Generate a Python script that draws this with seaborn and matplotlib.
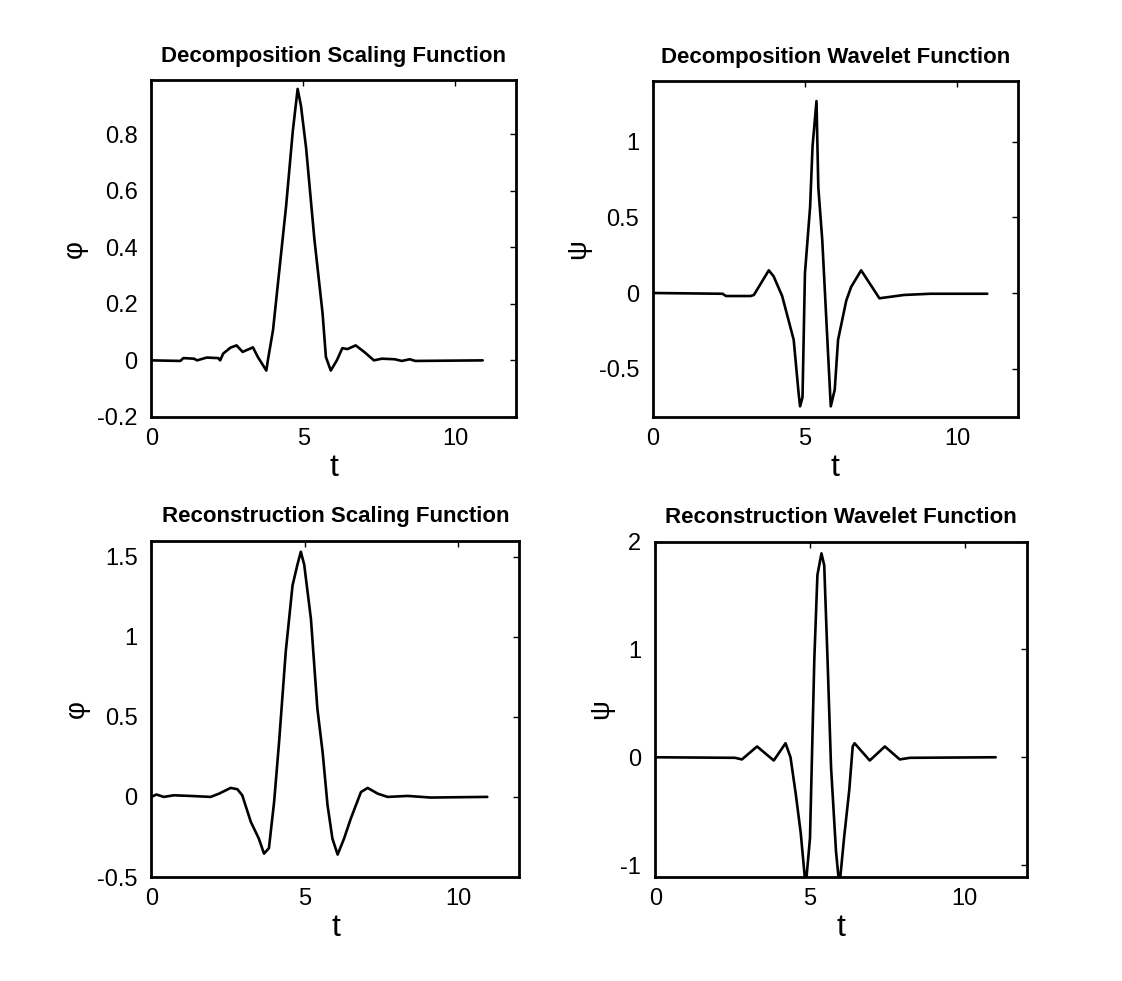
import matplotlib
matplotlib.use('Agg')
import matplotlib.pyplot as plt
import seaborn as sns
import pandas as pd

# values (t, value)
t_phi_dec = [0, 0.95, 1.05, 1.4, 1.5, 1.82, 2.2, 2.26, 2.36, 2.6, 2.8, 3.0, 3.34, 3.5,
             3.78, 3.83, 4.0, 4.43, 4.65, 4.81, 4.92, 5.09, 5.36, 5.63, 5.74, 5.9,
             6.1, 6.28, 6.45, 6.72, 7.0, 7.32, 7.58, 8.0, 8.24, 8.5, 8.68, 10.9]
phi_dec = [0, -0.002, 0.008, 0.006, 0.0, 0.01, 0.008, 0.0, 0.024, 0.045, 0.053, 0.03, 0.046, 0.012,
           -0.036, 0.0, 0.107, 0.545, 0.81, 0.96, 0.9, 0.75, 0.43, 0.167, 0.012, -0.036,
           0.0, 0.043, 0.04, 0.053, 0.03, 0.0, 0.006, 0.004, -0.002, 0.004, -0.002, 0]

t_psi_dec = [0, 2.29, 2.4, 3.21, 3.32, 3.81, 3.97, 4.25, 4.46, 4.63, 4.79, 4.84, 4.92,
             5.0, 5.17, 5.25, 5.38, 5.44, 5.57, 5.71, 5.85, 5.98, 6.09, 6.36, 6.52,
             6.85, 7.45, 8.26, 9.13, 11]
psi_dec = [0, -0.005, -0.02, -0.02, -0.013, 0.15, 0.11, -0.02, -0.18, -0.31, -0.66, -0.75, -0.69,
           0.13, 0.57, 0.97, 1.27, 0.70, 0.35, -0.2, -0.75, -0.64, -0.31, -0.05, 0.04,
           0.15, -0.035, -0.013, -0.005, -0.005]

t_phi_rec = [0, 0.16, 0.4, 0.73, 1.27, 1.93, 2.2, 2.58, 2.8, 2.96, 3.24, 3.5, 3.67, 3.83,
             4.0, 4.16, 4.38, 4.6, 4.76, 4.87, 4.98, 5.2, 5.41, 5.58, 5.74, 5.9, 6.07,
             6.28, 6.5, 6.83, 7.05, 7.38, 7.7, 8.36, 9.1, 10.95]
phi_rec = [0, 0.015, 0.0, 0.01, 0.006, 0.0, 0.02, 0.056, 0.048, 0.01, -0.156, -0.26, -0.354, -0.32,
           -0.03, 0.34, 0.91, 1.32, 1.45, 1.53, 1.45, 1.11, 0.55, 0.28, -0.05, -0.26, -0.36,
           -0.26, -0.135, 0.03, 0.056, 0.02, 0.0, 0.006, -0.004, 0]

t_psi_rec = [0, 2.58, 2.8, 3.29, 3.83, 4.21, 4.37, 4.54, 4.7, 4.86, 5.0, 5.14, 5.24, 5.37,
             5.46, 5.57, 5.68, 5.84, 5.95, 6.1, 6.27, 6.38, 6.44, 6.93, 7.42, 7.9, 8.23, 11]
psi_rec = [0, -0.005, -0.02, 0.1, -0.03, 0.13, 0.0, -0.34, -0.7, -1.2, -0.75, 0.91, 1.69, 1.89,
           1.78, 0.88, -0.09, -0.87, -1.2, -0.75, -0.3, 0.1, 0.13, -0.03, 0.1, -0.02, -0.005, 0]

titles = ['Decomposition Scaling Function', 'Decomposition Wavelet Function',
          'Reconstruction Scaling Function', 'Reconstruction Wavelet Function']
ylabels = ['\u03c6', '\u03c8', '\u03c6', '\u03c8']

sns.set_theme(style='white')
plt.rcParams['font.family'] = ['Liberation Sans', 'DejaVu Sans']

fig = plt.figure(figsize=(11.22, 9.81), dpi=100)
positions = [[0.135, 0.575, 0.325, 0.343], [0.582, 0.575, 0.325, 0.342],
             [0.135, 0.106, 0.328, 0.343], [0.584, 0.106, 0.331, 0.342]]
series = [(t_phi_dec, phi_dec), (t_psi_dec, psi_dec), (t_phi_rec, phi_rec), (t_psi_rec, psi_rec)]
ylims = [(-0.2, 0.99), (-0.82, 1.4), (-0.5, 1.6), (-1.11, 2.0)]
yticks = [[-0.2, 0, 0.2, 0.4, 0.6, 0.8], [-0.5, 0, 0.5, 1], [-0.5, 0, 0.5, 1, 1.5], [-1, 0, 1, 2]]
label_x = [-0.175, -0.17, -0.167, -0.11]

for i in range(4):
    ax = fig.add_axes(positions[i])
    df = pd.DataFrame({'t': series[i][0], 'v': series[i][1]})
    sns.lineplot(data=df, x='t', y='v', ax=ax, color='black', linewidth=1.9, estimator=None, sort=False)
    ax.set_xlim(0, 12)
    ax.set_ylim(*ylims[i])
    ax.set_xticks([0, 5, 10])
    ax.set_xticklabels(['0', '5', '10'])
    ax.set_yticks(yticks[i])
    ax.set_yticklabels(['%g' % v for v in yticks[i]])
    ax.tick_params(direction='in', top=True, right=True, length=4, width=1,
                   labelsize=17, color='black', labelcolor='black')
    ax.tick_params(axis='y', pad=10)
    ax.tick_params(axis='x', pad=8)
    for s in ax.spines.values():
        s.set_color('black')
        s.set_linewidth(2)
    ax.set_title(titles[i], fontsize=16, fontweight='bold', color='black', pad=13)
    ax.set_xlabel('t', fontsize=23, color='black', labelpad=2)
    ax.set_ylabel(ylabels[i], fontsize=20, color='black')
    ax.yaxis.set_label_coords(label_x[i], 0.5)

fig.savefig('out.png', dpi=100, facecolor='white')
